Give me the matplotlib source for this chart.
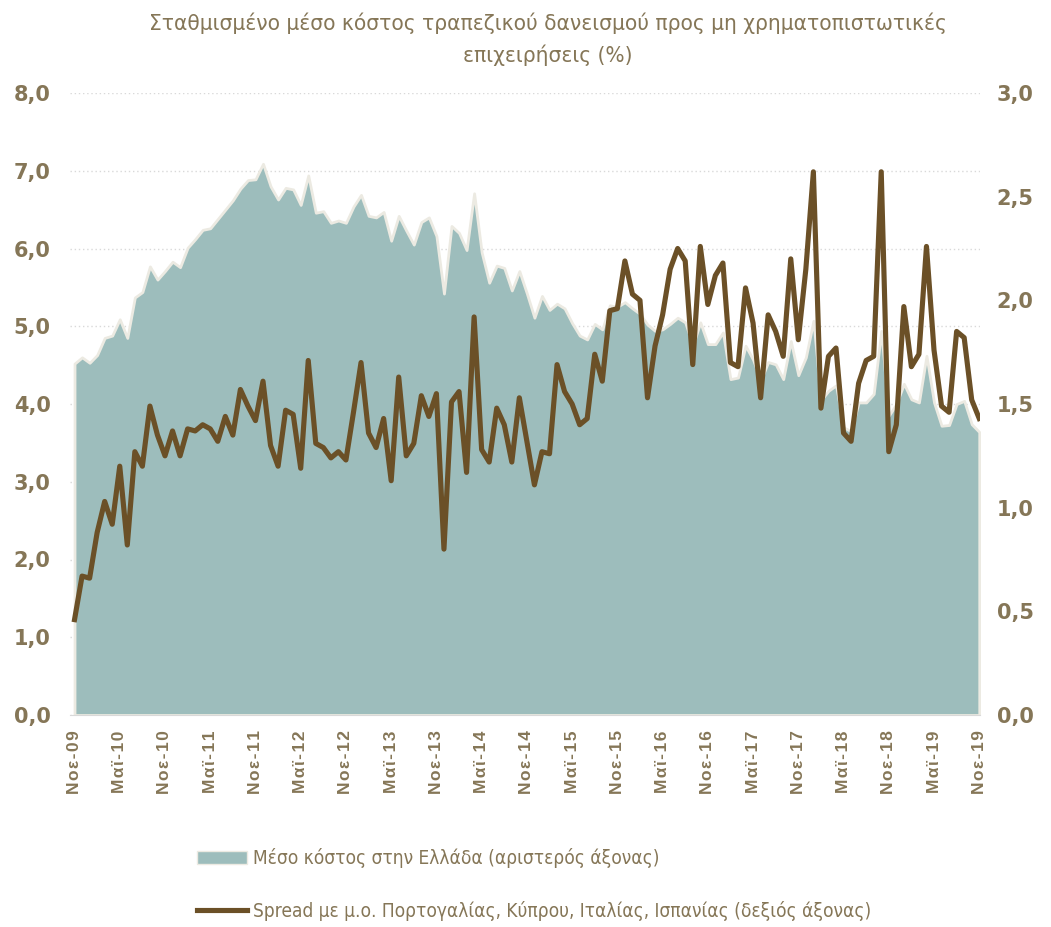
import matplotlib
matplotlib.use("Agg")
import matplotlib.pyplot as plt
from matplotlib import font_manager
from matplotlib.font_manager import FontProperties
from matplotlib.ft2font import FT2Font
from matplotlib.patches import Patch
from matplotlib.lines import Line2D
import numpy as np

# monthly data, Nov-09 .. Nov-19
cost_gr = [4.52, 4.60, 4.53, 4.63, 4.85, 4.88, 5.09, 4.85, 5.37, 5.44,
           5.77, 5.60, 5.71, 5.83, 5.76, 6.01, 6.12, 6.24, 6.26, 6.38,
           6.50, 6.62, 6.77, 6.88, 6.89, 7.09, 6.80, 6.63, 6.78, 6.76,
           6.56, 6.94, 6.46, 6.48, 6.33, 6.36, 6.33, 6.54, 6.69, 6.42,
           6.40, 6.47, 6.10, 6.42, 6.23, 6.05, 6.34, 6.40, 6.16, 5.42,
           6.29, 6.20, 5.98, 6.71, 5.95, 5.56, 5.78, 5.75, 5.46, 5.71,
           5.42, 5.11, 5.39, 5.21, 5.29, 5.23, 5.04, 4.88, 4.83, 5.03,
           4.96, 5.27, 5.25, 5.31, 5.23, 5.16, 5.02, 4.94, 4.96, 5.03,
           5.11, 5.05, 4.75, 5.05, 4.77, 4.77, 4.92, 4.32, 4.34, 4.75,
           4.57, 4.30, 4.54, 4.51, 4.32, 4.81, 4.37, 4.60, 5.07, 4.05,
           4.17, 4.24, 3.70, 3.65, 4.02, 4.02, 4.13, 4.94, 3.85, 4.00,
           4.26, 4.06, 4.02, 4.62, 4.02, 3.72, 3.73, 4.00, 4.04, 3.74,
           3.64]

spread = [0.46, 0.67, 0.66, 0.88, 1.03, 0.92, 1.20, 0.82, 1.27, 1.20,
          1.49, 1.35, 1.25, 1.37, 1.25, 1.38, 1.37, 1.40, 1.38, 1.32,
          1.44, 1.35, 1.57, 1.49, 1.42, 1.61, 1.30, 1.20, 1.47, 1.45,
          1.19, 1.71, 1.31, 1.29, 1.24, 1.27, 1.23, 1.46, 1.70, 1.36,
          1.29, 1.43, 1.13, 1.63, 1.25, 1.31, 1.54, 1.44, 1.55, 0.80,
          1.51, 1.56, 1.17, 1.92, 1.28, 1.22, 1.48, 1.40, 1.22, 1.53,
          1.32, 1.11, 1.27, 1.26, 1.69, 1.56, 1.50, 1.40, 1.43, 1.74,
          1.61, 1.95, 1.96, 2.19, 2.03, 2.00, 1.53, 1.78, 1.93, 2.15,
          2.25, 2.19, 1.69, 2.26, 1.98, 2.12, 2.18, 1.70, 1.68, 2.06,
          1.89, 1.53, 1.93, 1.85, 1.73, 2.20, 1.81, 2.15, 2.62, 1.48,
          1.73, 1.77, 1.36, 1.32, 1.60, 1.71, 1.73, 2.62, 1.27, 1.40,
          1.97, 1.68, 1.74, 2.26, 1.76, 1.49, 1.46, 1.85, 1.82, 1.52,
          1.43]

tick_labels = ["Νοε-09", "Μαϊ-10", "Νοε-10", "Μαϊ-11", "Νοε-11", "Μαϊ-12", "Νοε-12",
               "Μαϊ-13", "Νοε-13", "Μαϊ-14", "Νοε-14", "Μαϊ-15", "Νοε-15", "Μαϊ-16",
               "Νοε-16", "Μαϊ-17", "Νοε-17", "Μαϊ-18", "Νοε-18", "Μαϊ-19", "Νοε-19"]

title = "Σταθμισμένο μέσο κόστος τραπεζικού δανεισμού προς μη χρηματοπιστωτικές\nεπιχειρήσεις (%)"
label_area = "Μέσο κόστος στην Ελλάδα (αριστερός άξονας)"
label_line = "Spread με μ.ο. Πορτογαλίας, Κύπρου, Ιταλίας, Ισπανίας (δεξιός άξονας)"

txt_col = "#857657"
area_col = "#9DBDBC"
line_col = "#6B5027"


# look for a condensed font that has greek, otherwise plain Liberation Sans
def find_narrow():
    for f in font_manager.fontManager.ttflist:
        st = str(f.stretch).lower()
        nm = f.name.lower()
        if ("condensed" in st or "narrow" in nm or "condensed" in nm) and \
                f.style == "normal" and f.weight in (400, "normal", "regular", "book"):
            try:
                cm = FT2Font(f.fname).get_charmap()
                if ord("Σ") in cm and ord("ά") in cm:
                    return FontProperties(fname=f.fname)
            except Exception:
                pass
    return FontProperties(family="Liberation Sans")


narrow = find_narrow()

x = np.arange(len(cost_gr))

fig = plt.figure(figsize=(10.51, 9.27), dpi=100)
ax = fig.add_axes([70/1051, 1-715/927, 910/1051, 622/927])
ax2 = ax.twinx()

ax.fill_between(x, cost_gr, 0, color=area_col, edgecolor="#ECEAE2", linewidth=2, zorder=2)
ax.set_ylim(0, 8)
ax.set_yticks(np.arange(0, 9, 1))
ax.set_yticklabels([f"{v:.1f}".replace(".", ",") for v in np.arange(0, 9, 1)])
ax.grid(axis="y", color="#D9D9D9", linestyle=(0, (1, 2)), linewidth=1, zorder=0)
ax.set_axisbelow(True)

ax2.plot(x, spread, color=line_col, linewidth=3.7, solid_joinstyle="round", zorder=3)
ax2.set_ylim(0, 3)
ax2.set_yticks(np.arange(0, 3.01, 0.5))
ax2.set_yticklabels([f"{v:.1f}".replace(".", ",") for v in np.arange(0, 3.01, 0.5)])

ax.set_xlim(-0.6, 120.1)
ax.set_xticks(x[::6])
ax.set_xticklabels(["\u200a".join(t) for t in tick_labels], rotation=90, fontsize=12.5,
                   fontweight="bold", color=txt_col, family=["Liberation Sans", "DejaVu Sans"])

for a in (ax, ax2):
    for s in a.spines.values():
        s.set_visible(False)
    a.tick_params(length=0)
ax.spines["bottom"].set_visible(True)
ax.spines["bottom"].set_color("#D9D9D9")
ax.tick_params(axis="y", labelsize=15, labelcolor=txt_col, pad=14)
ax2.tick_params(axis="y", labelsize=15, labelcolor=txt_col, pad=12)
for lab in ax.get_yticklabels() + ax2.get_yticklabels():
    lab.set_fontweight("bold")
ax.tick_params(axis="x", pad=11)

renderer = fig.canvas.get_renderer()


def fitted_size(s, fp, target_px, base=20.0):
    p = fp.copy()
    p.set_size(base)
    t = fig.text(0, 0, s, fontproperties=p)
    w = t.get_window_extent(renderer).width
    t.remove()
    return base * target_px / w


# title, sized to the reference width
t_size = fitted_size(title.split("\n")[0], narrow, 795)
tp = narrow.copy()
tp.set_size(t_size)
fig.text(548/1051, 1-39/927, title, ha="center", va="center", fontproperties=tp,
         color=txt_col, linespacing=1.6)

# legend
l_size = fitted_size(label_line, narrow, 617)
lp = narrow.copy()
lp.set_size(l_size)
fs_px = l_size * 100 / 72
handles = [Patch(facecolor=area_col, edgecolor="#ECEAE2"),
           Line2D([0], [0], color=line_col, linewidth=3.7)]
fig.legend(handles, [label_area, label_line], loc="center left",
           bbox_to_anchor=(197/1051, 1-884.5/927), frameon=False, prop=lp,
           labelcolor=txt_col, borderaxespad=0, borderpad=0,
           handlelength=50/fs_px, handleheight=12/fs_px, handletextpad=6/fs_px,
           labelspacing=(55 - 1.2*fs_px)/fs_px)

fig.savefig("out.png", dpi=100)
